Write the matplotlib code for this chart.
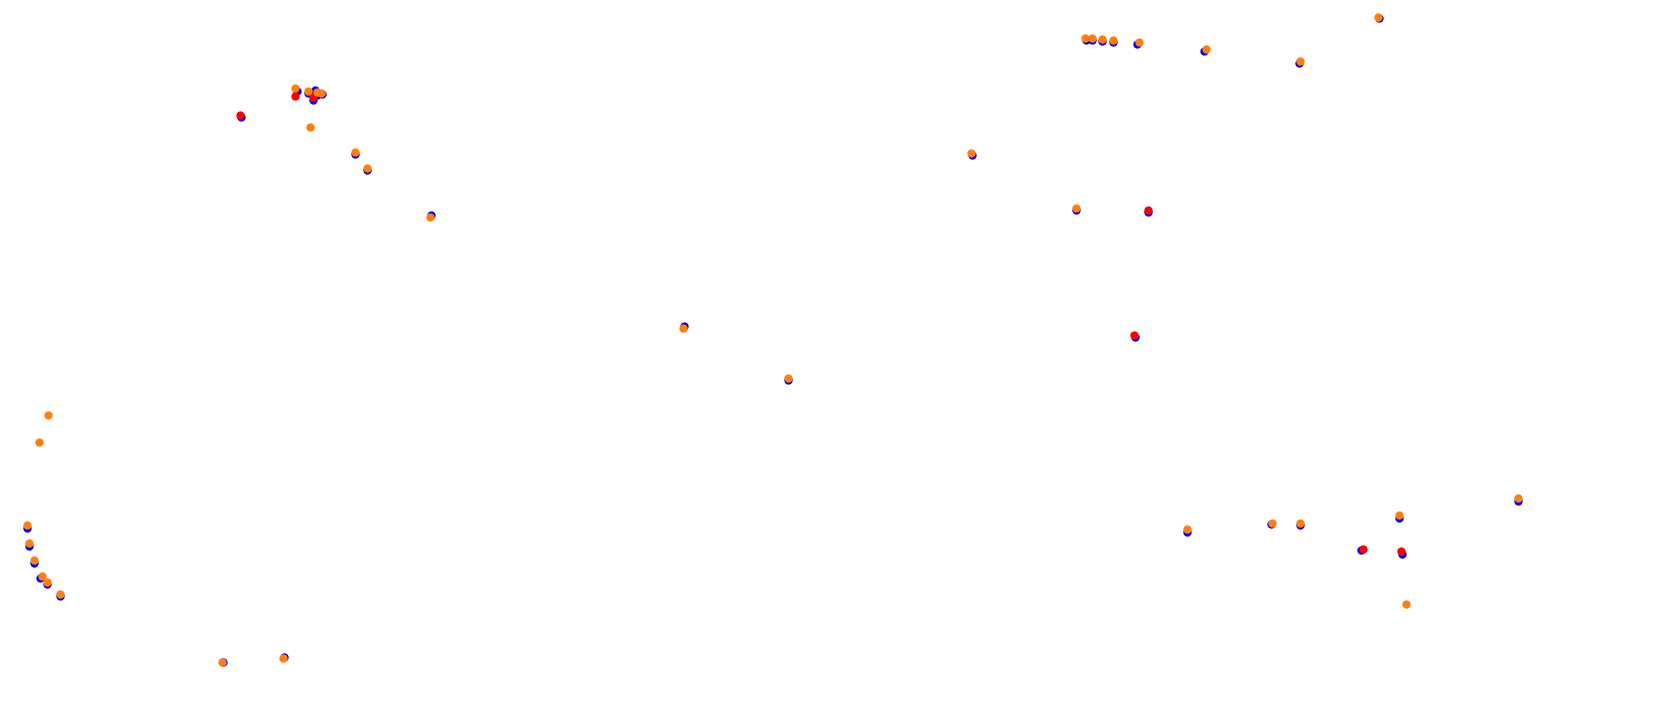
import matplotlib
matplotlib.use("Agg")
import matplotlib.pyplot as plt

# Values (track-map style coordinates, y grows downward)
blue_x = [241, 296.7, 307.7, 315, 316.7, 313.3, 321.7, 354.7, 366.7, 431.3,
          1085.7, 1092.3, 1102.3, 1113.3, 1137.3, 1204.3, 1298.7, 1379,
          27, 29, 33.7, 40.3, 47, 60,
          1187, 1270.7, 1300, 1398.7, 1361.3, 1402, 1517.7,
          972, 1075.7, 1147.7, 1135,
          684, 787.7, 223.3, 284.3]
blue_y = [117.3, 90.5, 93.3, 90, 94.5, 99.5, 94.3, 154.3, 170, 215,
          40, 40, 41, 42.3, 44, 51, 63.3, 18.3,
          527.7, 545.7, 562.7, 578.3, 584.3, 596.3,
          531.7, 524.3, 525.3, 517.7, 550, 554, 500.7,
          155, 210, 212, 337,
          326, 380.3, 661.7, 657.3]

red_x = [240, 295, 313.3, 1362.7, 1400.7, 1147.7, 1133.7]
red_y = [115, 95.7, 97.3, 549, 551.3, 209.7, 335]

orange_x = [295, 307.7, 316.7, 320.7, 309.7, 354.7, 366.7, 429.7,
            1085, 1092, 1101.7, 1112.7, 1138.7, 1205.7, 1299.7, 1377.7,
            48, 38.7, 27, 29, 33.7, 41.7, 47, 60,
            1187, 1272, 1300, 1398.7, 1405.7, 1517.7,
            971, 1075.7, 682.7, 787.7, 222, 283]
orange_y = [88.3, 91, 92.3, 93.3, 126.7, 152, 167.7, 216.7,
            37.7, 37.7, 39.3, 40, 41.7, 48.7, 61, 16.7,
            414.7, 441.7, 525, 543, 560, 575.7, 581.7, 593.7,
            529, 522.7, 522.7, 515, 603.7, 498,
            152.7, 207.7, 327.7, 378, 662, 657.7]

fig = plt.figure(figsize=(16.8, 7.22), dpi=100)
ax = fig.add_axes([0, 0, 1, 1])
ax.scatter(blue_x, blue_y, s=36, color="#0000ff", linewidths=0, zorder=1)
ax.scatter(red_x, red_y, s=36, color="#ff0000", linewidths=0, zorder=2)
ax.scatter(orange_x, orange_y, s=36, color="#ff7f0e", linewidths=0, zorder=3)
ax.set_xlim(0, 1680)
ax.set_ylim(722, 0)
ax.axis("off")
fig.savefig("out.png", dpi=100, facecolor="white")
